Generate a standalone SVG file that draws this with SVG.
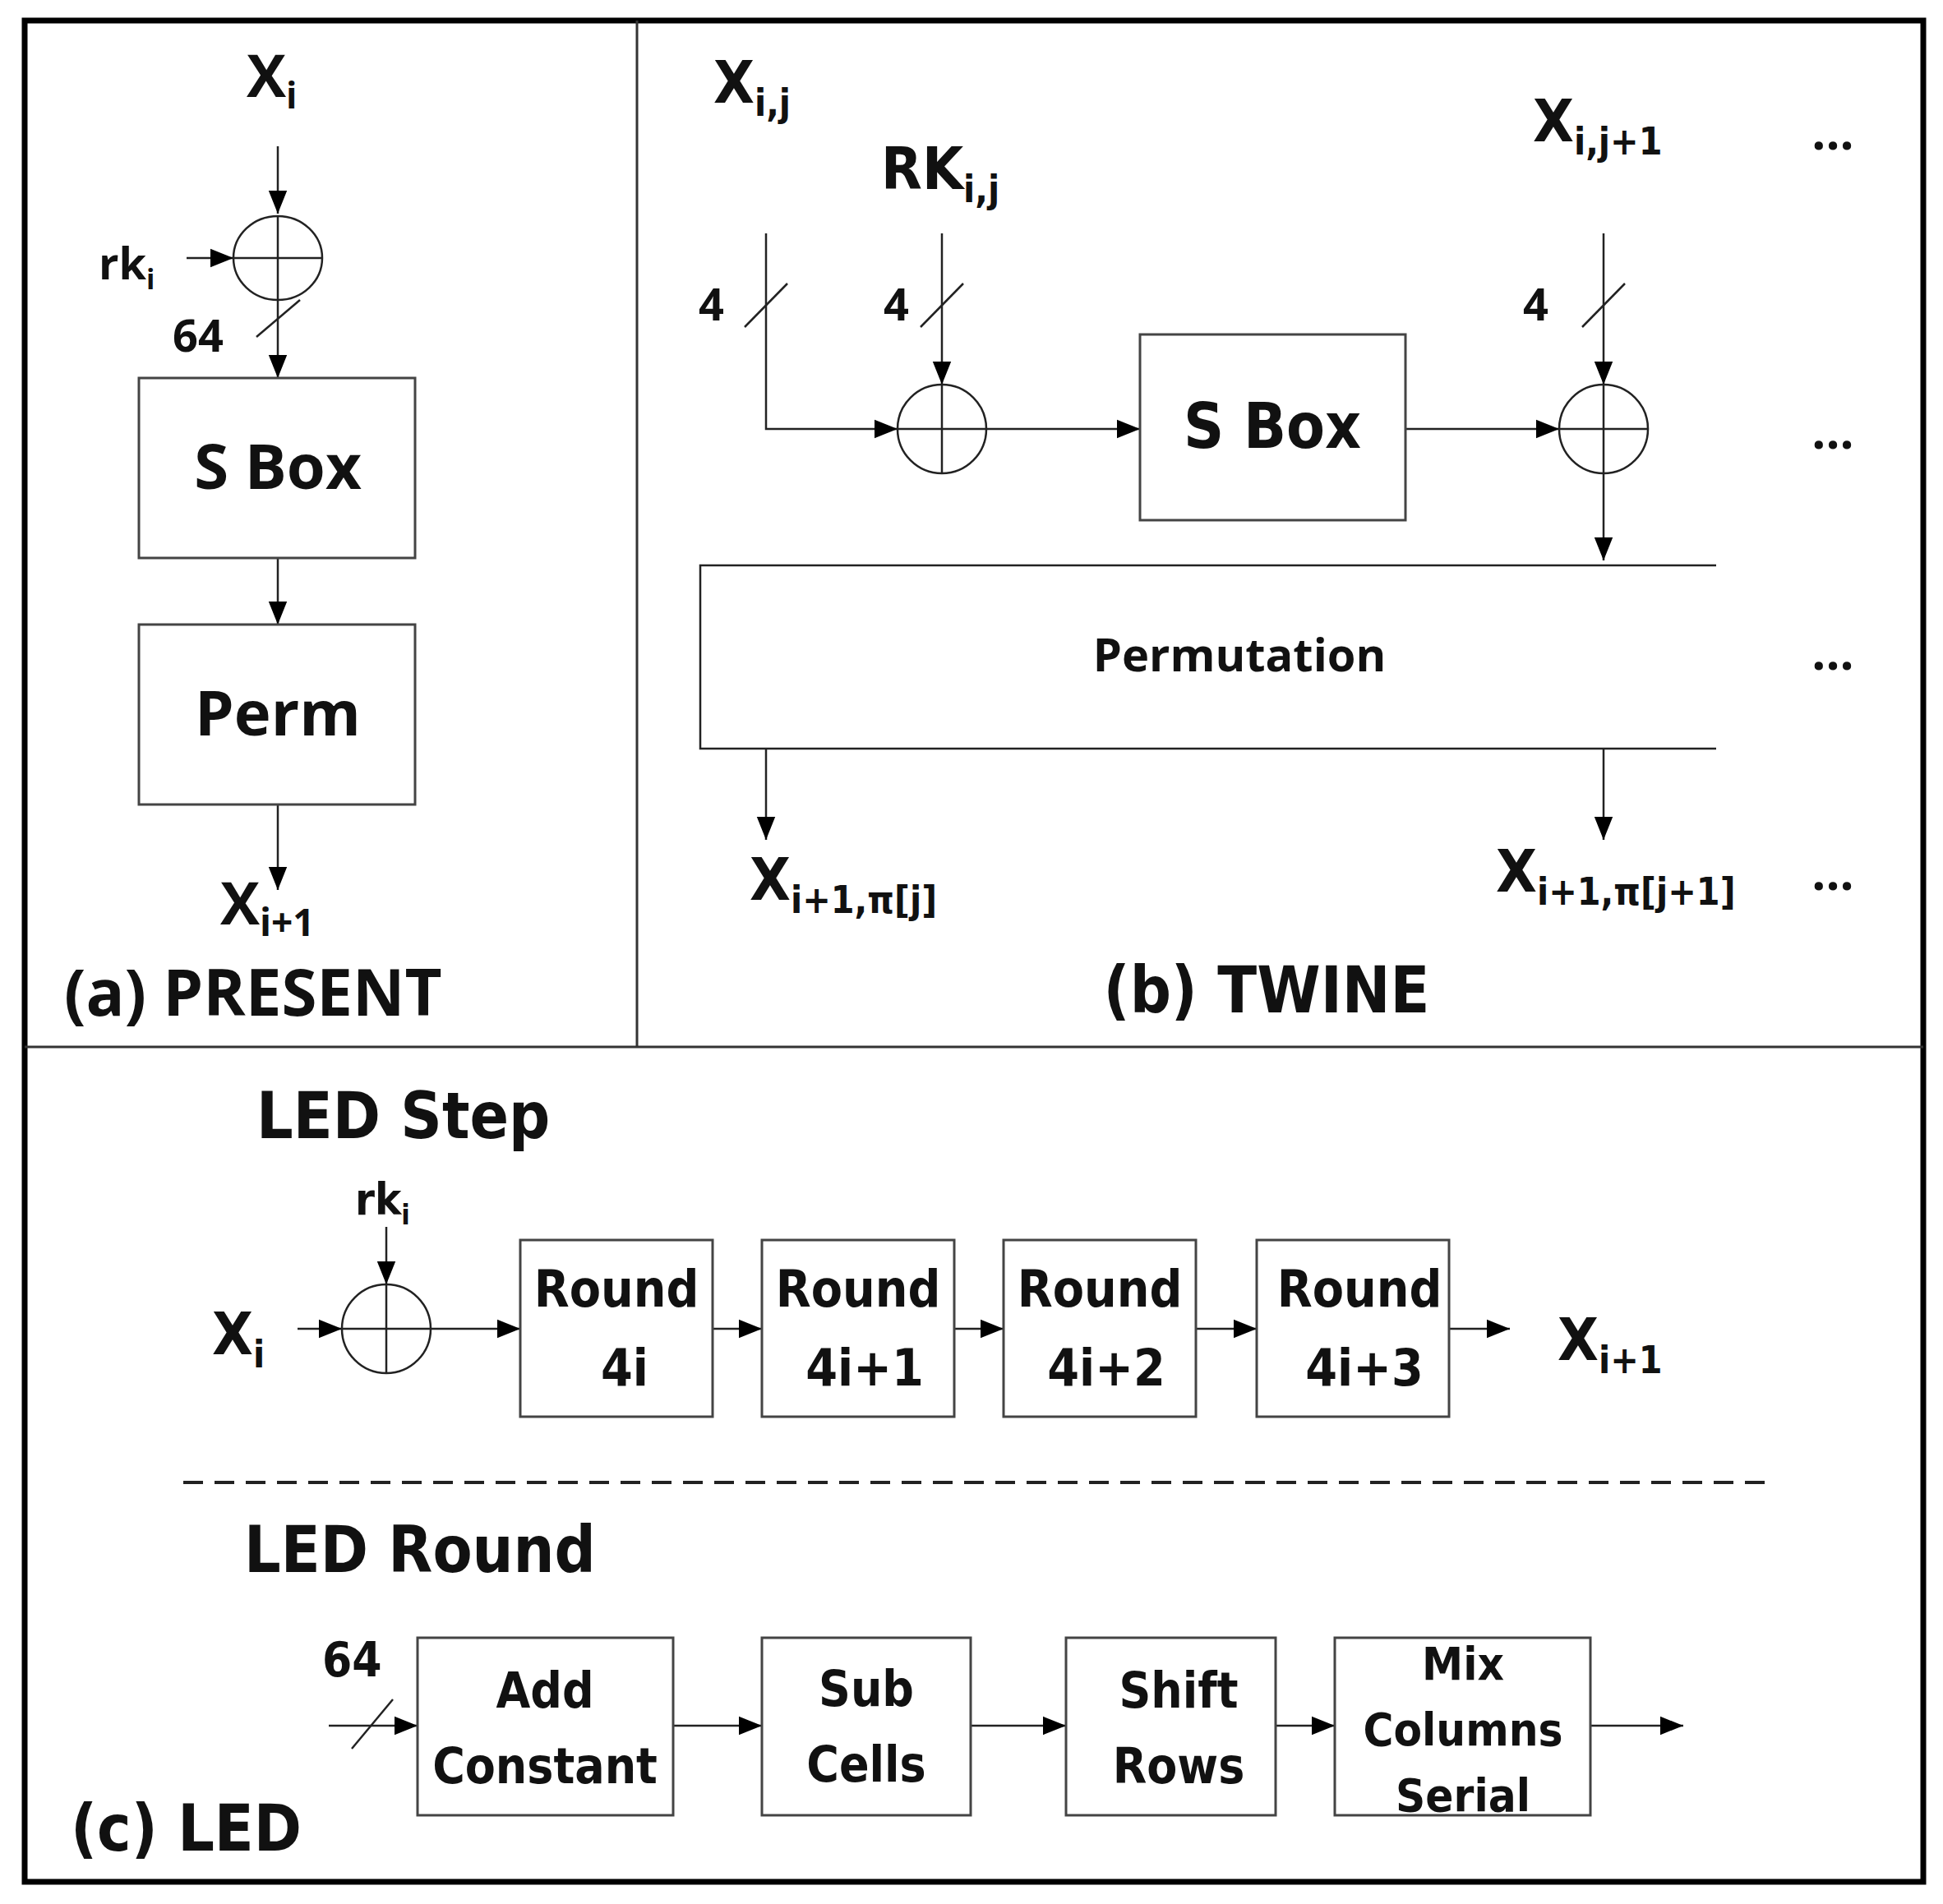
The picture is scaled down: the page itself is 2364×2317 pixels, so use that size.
<svg xmlns="http://www.w3.org/2000/svg" width="2364" height="2317" viewBox="0 0 2364 2317">
<defs>
<marker id="ahb" viewBox="0 0 10 10" refX="10" refY="5" markerWidth="28" markerHeight="28" markerUnits="userSpaceOnUse" orient="auto"><path d="M0,1 L10,5 L0,9 z" fill="#000"/></marker>
</defs>
<style>
text{font-family:"Open Sans","Liberation Sans",sans-serif;font-weight:bold;fill:#111}
.box{fill:#fff;stroke:#444;stroke-width:3}
.ln{fill:none;stroke:#222;stroke-width:2.5}
.ar{fill:none;stroke:#222;stroke-width:2.5;marker-end:url(#ahb)}
.xor{fill:#fff;stroke:#222;stroke-width:2.5}
.big{font-size:72px}
.cnd{font-family:"DejaVu Sans Condensed","Liberation Sans Narrow","Liberation Sans",sans-serif}
</style>
<rect x="0" y="0" width="2364" height="2317" fill="#fff"/>
<rect x="30" y="25" width="2310" height="2265" fill="none" stroke="#000" stroke-width="7"/>
<line x1="775" y1="25" x2="775" y2="1274" stroke="#333" stroke-width="3"/>
<line x1="30" y1="1274" x2="2340" y2="1274" stroke="#333" stroke-width="3"/>

<g id="connectors">
<line class="ar" x1="338" y1="178" x2="338" y2="260"/>
<line class="ar" x1="227" y1="314" x2="284" y2="314"/>
<line class="ar" x1="338" y1="365" x2="338" y2="460"/>
<line class="ln" x1="312" y1="410" x2="365" y2="365"/>
<line class="ar" x1="338" y1="679" x2="338" y2="760"/>
<line class="ar" x1="338" y1="979" x2="338" y2="1083"/>

<polyline class="ar" points="932,284 932,522 1092,522"/>
<line class="ln" x1="906" y1="398" x2="958" y2="345"/>
<line class="ar" x1="1146" y1="284" x2="1146" y2="468"/>
<line class="ln" x1="1120" y1="398" x2="1172" y2="345"/>
<line class="ar" x1="1200" y1="522" x2="1387" y2="522"/>
<line class="ar" x1="1710" y1="522" x2="1897" y2="522"/>
<line class="ar" x1="1951" y1="284" x2="1951" y2="468"/>
<line class="ln" x1="1925" y1="398" x2="1977" y2="345"/>
<line class="ar" x1="1951" y1="576" x2="1951" y2="682"/>
<polyline class="ln" points="2088,688 852,688 852,911 2088,911"/>
<line class="ar" x1="932" y1="911" x2="932" y2="1022"/>
<line class="ar" x1="1951" y1="911" x2="1951" y2="1022"/>

<line class="ar" x1="470" y1="1493" x2="470" y2="1563"/>
<line class="ar" x1="362" y1="1617" x2="416" y2="1617"/>
<line class="ar" x1="524" y1="1617" x2="633" y2="1617"/>
<line class="ar" x1="867" y1="1617" x2="927" y2="1617"/>
<line class="ar" x1="1161" y1="1617" x2="1221" y2="1617"/>
<line class="ar" x1="1455" y1="1617" x2="1529" y2="1617"/>
<line class="ar" x1="1763" y1="1617" x2="1837" y2="1617"/>
<line x1="223" y1="1804" x2="2159" y2="1804" stroke="#222" stroke-width="4" stroke-dasharray="24,14"/>
<line class="ar" x1="400" y1="2100" x2="508" y2="2100"/>
<line class="ln" x1="428" y1="2128" x2="478" y2="2068"/>
<line class="ar" x1="819" y1="2100" x2="927" y2="2100"/>
<line class="ar" x1="1181" y1="2100" x2="1297" y2="2100"/>
<line class="ar" x1="1552" y1="2100" x2="1624" y2="2100"/>
<line class="ar" x1="1935" y1="2100" x2="2048" y2="2100"/>
</g>

<g id="present">
<text class="big" x="300" y="118">X<tspan font-size="44" dy="14">i</tspan></text>
<g id="xor-a"><ellipse class="xor" cx="338" cy="314" rx="54" ry="51" fill-opacity="0"/><line class="ln" x1="284" y1="314" x2="392" y2="314"/><line class="ln" x1="338" y1="263" x2="338" y2="365"/></g>
<text x="120" y="340" font-size="54">rk<tspan font-size="34" dy="12">i</tspan></text>
<text x="210" y="428" font-size="54">64</text>
<g id="sbox-a"><rect class="box" x="169" y="460" width="336" height="219"/><text x="338" y="595" font-size="76" text-anchor="middle">S Box</text></g>
<g id="perm-a"><rect class="box" x="169" y="760" width="336" height="219"/><text x="338" y="895" font-size="76" text-anchor="middle">Perm</text></g>
<text class="big" x="268" y="1125">X<tspan font-size="46" dy="14">i+1</tspan></text>
<text x="78" y="1236" font-size="78">(a) PRESENT</text>
</g>

<g id="twine">
<text class="big cnd" x="868" y="125">X<tspan font-size="46" dy="16">i,j</tspan></text>
<text class="big cnd" x="1072" y="230">RK<tspan font-size="46" dy="16">i,j</tspan></text>
<text class="big cnd" x="1865" y="172">X<tspan font-size="46" dy="16">i,j+1</tspan></text>
<text x="850" y="390" font-size="54">4</text>
<text x="1075" y="390" font-size="54">4</text>
<text x="1853" y="390" font-size="54">4</text>
<g id="xor-b1"><ellipse class="xor" cx="1146" cy="522" rx="54" ry="54"/><line class="ln" x1="1092" y1="522" x2="1200" y2="522"/><line class="ln" x1="1146" y1="468" x2="1146" y2="576"/></g>
<g id="sbox-b"><rect class="box" x="1387" y="407" width="323" height="226"/><text class="cnd" x="1548" y="545" font-size="76" text-anchor="middle">S Box</text></g>
<g id="xor-b2"><ellipse class="xor" cx="1951" cy="522" rx="54" ry="54"/><line class="ln" x1="1897" y1="522" x2="2005" y2="522"/><line class="ln" x1="1951" y1="468" x2="1951" y2="576"/></g>
<text x="1508" y="817" font-size="56" text-anchor="middle">Permutation</text>
<text class="big cnd" x="912" y="1095">X<tspan font-size="46" dy="16">i+1,π[j]</tspan></text>
<text class="big cnd" x="1820" y="1085">X<tspan font-size="46" dy="16">i+1,π[j+1]</tspan></text>
<text x="2230" y="182" font-size="60" text-anchor="middle">...</text>
<text x="2230" y="546" font-size="60" text-anchor="middle">...</text>
<text x="2230" y="815" font-size="60" text-anchor="middle">...</text>
<text x="2230" y="1083" font-size="60" text-anchor="middle">...</text>
<text class="cnd" x="1541" y="1232" font-size="78" text-anchor="middle">(b) TWINE</text>
</g>

<g id="led">
<text class="cnd" x="312" y="1385" font-size="78">LED Step</text>
<text class="cnd" x="432" y="1478" font-size="54">rk<tspan font-size="34" dy="12">i</tspan></text>
<text class="big cnd" x="258" y="1648">X<tspan font-size="46" dy="16">i</tspan></text>
<g id="xor-c"><ellipse class="xor" cx="470" cy="1617" rx="54" ry="54"/><line class="ln" x1="416" y1="1617" x2="524" y2="1617"/><line class="ln" x1="470" y1="1563" x2="470" y2="1671"/></g>
<g id="r0"><rect class="box" x="633" y="1509" width="234" height="215"/><text class="cnd" x="750" y="1590" font-size="62" text-anchor="middle">Round</text><text class="cnd" x="760" y="1686" font-size="62" text-anchor="middle">4i</text></g>
<g id="r1"><rect class="box" x="927" y="1509" width="234" height="215"/><text class="cnd" x="1044" y="1590" font-size="62" text-anchor="middle">Round</text><text class="cnd" x="1052" y="1686" font-size="62" text-anchor="middle">4i+1</text></g>
<g id="r2"><rect class="box" x="1221" y="1509" width="234" height="215"/><text class="cnd" x="1338" y="1590" font-size="62" text-anchor="middle">Round</text><text class="cnd" x="1346" y="1686" font-size="62" text-anchor="middle">4i+2</text></g>
<g id="r3"><rect class="box" x="1529" y="1509" width="234" height="215"/><text class="cnd" x="1654" y="1590" font-size="62" text-anchor="middle">Round</text><text class="cnd" x="1660" y="1686" font-size="62" text-anchor="middle">4i+3</text></g>
<text class="big cnd" x="1895" y="1655">X<tspan font-size="46" dy="16">i+1</tspan></text>
<text class="cnd" x="297" y="1913" font-size="78">LED Round</text>
<text class="cnd" x="392" y="2040" font-size="58">64</text>
<g id="addc"><rect class="box" x="508" y="1993" width="311" height="216"/><text class="cnd" x="663" y="2078" font-size="60" text-anchor="middle">Add</text><text class="cnd" x="663" y="2170" font-size="60" text-anchor="middle">Constant</text></g>
<g id="subc"><rect class="box" x="927" y="1993" width="254" height="216"/><text class="cnd" x="1054" y="2076" font-size="60" text-anchor="middle">Sub</text><text class="cnd" x="1054" y="2168" font-size="60" text-anchor="middle">Cells</text></g>
<g id="shr"><rect class="box" x="1297" y="1993" width="255" height="216"/><text class="cnd" x="1434" y="2078" font-size="60" text-anchor="middle">Shift</text><text class="cnd" x="1434" y="2170" font-size="60" text-anchor="middle">Rows</text></g>
<g id="mcs"><rect class="box" x="1624" y="1993" width="311" height="216"/><text class="cnd" x="1780" y="2044" font-size="56" text-anchor="middle">Mix</text><text class="cnd" x="1780" y="2124" font-size="56" text-anchor="middle">Columns</text><text class="cnd" x="1780" y="2204" font-size="56" text-anchor="middle">Serial</text></g>
<text class="cnd" x="86" y="2252" font-size="78">(c) LED</text>
</g>
</svg>
